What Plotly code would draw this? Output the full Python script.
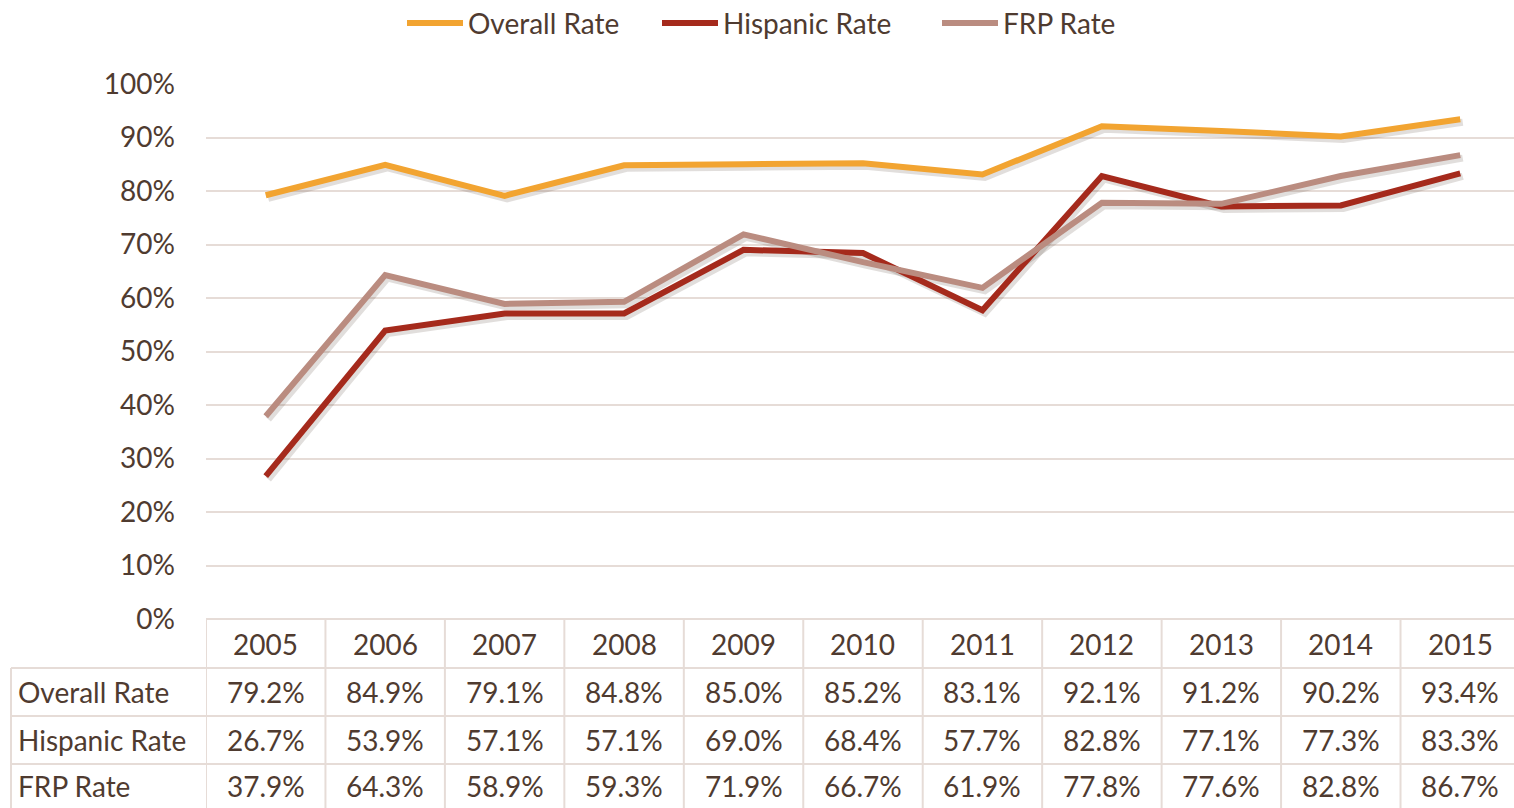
import plotly.graph_objects as go

years = ["2005", "2006", "2007", "2008", "2009", "2010", "2011", "2012", "2013", "2014", "2015"]
overall_rate = [79.2, 84.9, 79.1, 84.8, 85.0, 85.2, 83.1, 92.1, 91.2, 90.2, 93.4]
hispanic_rate = [26.7, 53.9, 57.1, 57.1, 69.0, 68.4, 57.7, 82.8, 77.1, 77.3, 83.3]
frp_rate = [37.9, 64.3, 58.9, 59.3, 71.9, 66.7, 61.9, 77.8, 77.6, 82.8, 86.7]
series_names = ["Overall Rate", "Hispanic Rate", "FRP Rate"]
series_values = [overall_rate, hispanic_rate, frp_rate]
series_colors = ["#F2A431", "#A52A1C", "#BA8C80"]

W, H = 1514, 808
ML, MR, MT, MB = 206, 0, 84, 189
FONT = "Lato"
TXT = "#4F3B30"
BORDER = "#E6DCD7"
FS = 28
LINE_W = 6

plot_h = H - MT - MB
# right edge of the last table column runs slightly past the page
x_lo, x_hi = -0.5, 10.45
plot_w = W - ML - MR
px_per_unit = plot_w / (x_hi - x_lo)


def py_to_paper(py):
    return (H - MB - py) / plot_h


def px_to_paper(px):
    return (px - ML) / plot_w


fig = go.Figure()
xs = list(range(len(years)))

# soft drop shadow on the base axes (nudged right/down); the coloured
# series sit on the overlay axes so they are painted above the shadow
sx, sy = 2.5, 3.0
for vals in series_values:
    fig.add_trace(go.Scatter(
        x=xs, y=[v / 100 for v in vals], mode="lines", showlegend=False,
        hoverinfo="skip", xaxis="x", yaxis="y",
        line=dict(color="rgba(70,50,40,0.16)", width=LINE_W + 1),
    ))

for name, vals, col in zip(series_names, series_values, series_colors):
    fig.add_trace(go.Scatter(
        x=xs, y=[v / 100 for v in vals], name=name, mode="lines",
        xaxis="x2", yaxis="y2",
        line=dict(color=col, width=LINE_W), cliponaxis=False, showlegend=False,
    ))

shapes = []
annotations = []

# legend drawn as swatch + label, centred above the plot
legend_left = [407, 662, 942]
legend_y = py_to_paper(23)
for name, col, lx in zip(series_names, series_colors, legend_left):
    shapes.append(dict(type="line", xref="paper", yref="paper",
                       x0=px_to_paper(lx), x1=px_to_paper(lx + 56), y0=legend_y, y1=legend_y,
                       line=dict(color=col, width=LINE_W)))
    annotations.append(dict(x=px_to_paper(lx + 59), xref="paper", y=legend_y, yref="paper",
                            text=name, showarrow=False, xanchor="left", yanchor="middle",
                            font=dict(family=FONT, size=FS, color=TXT)))

# data table under the plot
row_edges = [619, 668, 716, 764, 808]
label_left = 11
col_edges_x = [x_lo + k for k in range(len(years) + 1)]

shapes.append(dict(type="line", xref="paper", yref="paper",
                   x0=0, x1=1, y0=py_to_paper(row_edges[0]), y1=py_to_paper(row_edges[0]),
                   line=dict(color=BORDER, width=2)))
for ry in row_edges[1:4]:
    shapes.append(dict(type="line", xref="paper", yref="paper",
                       x0=px_to_paper(label_left), x1=1, y0=py_to_paper(ry), y1=py_to_paper(ry),
                       line=dict(color=BORDER, width=2)))
shapes.append(dict(type="line", xref="paper", yref="paper",
                   x0=px_to_paper(label_left), x1=px_to_paper(label_left),
                   y0=py_to_paper(row_edges[1]), y1=py_to_paper(row_edges[-1]),
                   line=dict(color=BORDER, width=2)))
for cx in col_edges_x:
    shapes.append(dict(type="line", xref="x2", yref="paper",
                       x0=cx, x1=cx, y0=py_to_paper(row_edges[0]), y1=py_to_paper(row_edges[-1]),
                       line=dict(color=BORDER, width=2)))

row_centers = [(row_edges[i] + row_edges[i + 1]) / 2 for i in range(4)]

for i, yr in enumerate(years):
    annotations.append(dict(x=i, xref="x2", y=py_to_paper(row_centers[0]), yref="paper",
                            text=yr, showarrow=False, xanchor="center", yanchor="middle",
                            font=dict(family=FONT, size=FS, color=TXT)))
for r, (name, vals) in enumerate(zip(series_names, series_values)):
    yc = py_to_paper(row_centers[r + 1])
    annotations.append(dict(x=px_to_paper(16), xref="paper", y=yc, yref="paper",
                            text=name, showarrow=False, xanchor="left", yanchor="middle",
                            font=dict(family=FONT, size=FS, color=TXT)))
    for i, v in enumerate(vals):
        annotations.append(dict(x=i, xref="x2", y=yc, yref="paper",
                                text=f"{v:.1f}%", showarrow=False, xanchor="center", yanchor="middle",
                                font=dict(family=FONT, size=FS, color=TXT)))

dx = sx / px_per_unit
dy = sy / plot_h
fig.update_layout(
    width=W, height=H,
    margin=dict(l=ML, r=MR, t=MT, b=MB, pad=0),
    paper_bgcolor="white", plot_bgcolor="white",
    font=dict(family=FONT, size=FS, color=TXT),
    showlegend=False,
    xaxis=dict(range=[x_lo - dx, x_hi - dx], visible=False),
    yaxis=dict(range=[0 + dy, 1 + dy], visible=False),
    xaxis2=dict(range=[x_lo, x_hi], overlaying="x", showticklabels=False, showgrid=False,
                zeroline=False, showline=False, ticks=""),
    yaxis2=dict(range=[0, 1], overlaying="y", side="left",
                tickvals=[i / 10 for i in range(11)],
                ticktext=[f"{i * 10}%" for i in range(11)],
                showgrid=True, gridcolor=BORDER, gridwidth=2,
                zeroline=False, showline=False, ticks="", ticklabelstandoff=30,
                tickfont=dict(family=FONT, size=FS, color=TXT)),
    shapes=shapes, annotations=annotations,
)

fig.write_html("out.html")
